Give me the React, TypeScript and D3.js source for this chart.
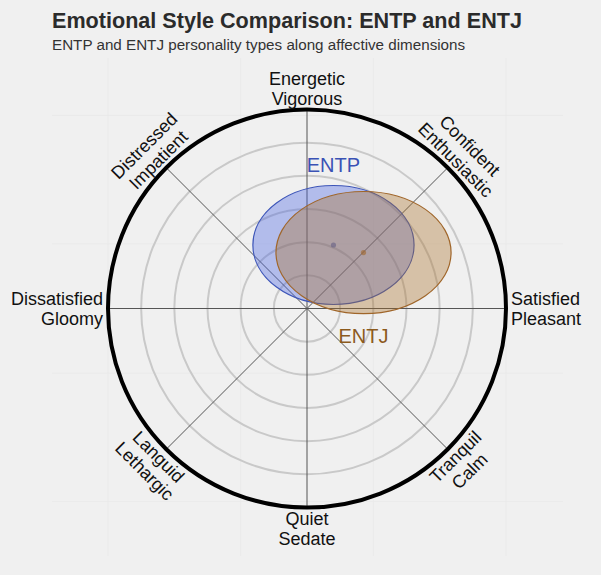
import React from "react";
import * as d3 from "d3";

const W = 601;
const H = 575;

// ---- data ----
const types = ["ENTP", "ENTJ"];
const centerX = [0.133, 0.284];
const centerY = [0.319, 0.281];
const radiusX = [0.405, 0.44];
const radiusY = [0.299, 0.307];
const fillColors = ["#4561e2", "#a96f28"];
const strokeColors = ["#3d55b8", "#a0662a"];
const labelColors = ["#3a52b5", "#8c5a1c"];

const axisAngles = [90, 45, 0, -45, -90, -135, 180, 135];
const axisLabels = [
  ["Energetic", "Vigorous"],
  ["Confident", "Enthusiastic"],
  ["Satisfied", "Pleasant"],
  ["Tranquil", "Calm"],
  ["Quiet", "Sedate"],
  ["Languid", "Lethargic"],
  ["Dissatisfied", "Gloomy"],
  ["Distressed", "Impatient"],
];
const ringLevels = [1 / 6, 2 / 6, 3 / 6, 4 / 6, 5 / 6];
const bgGridX = [-1, -1 / 3, 1 / 3, 1];
const bgGridY = [-0.97, -0.325, 0.325, 0.97];

const title = "Emotional Style Comparison: ENTP and ENTJ";
const subtitle = "ENTP and ENTJ personality types along affective dimensions";

export default function App() {
  const cx = 307;
  const cy = 308.5;
  const R = 199;
  const x = d3.scaleLinear().domain([-1, 1]).range([cx - R, cx + R]);
  const y = d3.scaleLinear().domain([-1, 1]).range([cy + R, cy - R]);
  const font = "'Liberation Sans', Arial, Helvetica, sans-serif";
  const labFs = 18;

  const panel = { x0: 52, x1: 563, y0: 58, y1: 556 };

  const renderLabel = (ang: number, lines: string[], i: number) => {
    const rad = (ang * Math.PI) / 180;
    if (ang === 0 || ang === 180) {
      const px = cx + (ang === 0 ? R + 5 : -(R + 5));
      return (
        <g key={i} transform={`translate(${px},${cy})`}>
          {lines.map((t, j) => (
            <text
              key={j}
              x={0}
              y={(j === 0 ? -10 : 10) + 6}
              textAnchor={ang === 0 ? "start" : "end"}
              fontSize={labFs}
              fill="#111"
            >
              {t}
            </text>
          ))}
        </g>
      );
    }
    const rm = R + 21;
    const px = cx + rm * Math.cos(rad);
    const py = cy - rm * Math.sin(rad);
    let rot = 0;
    if (ang === 45 || ang === -135) rot = 45;
    if (ang === 135 || ang === -45) rot = -45;
    return (
      <g key={i} transform={`translate(${px},${py}) rotate(${rot})`}>
        {lines.map((t, j) => (
          <text
            key={j}
            x={0}
            y={(j === 0 ? -10 : 10) + 6}
            textAnchor="middle"
            fontSize={labFs}
            fill="#111"
          >
            {t}
          </text>
        ))}
      </g>
    );
  };

  return (
    <svg
      width={W}
      height={H}
      style={{ position: "absolute", left: 0, top: 0, fontFamily: font }}
    >
      <rect x={0} y={0} width={W} height={H} fill="#f0f0f0" />
      {/* faint background grid */}
      {bgGridX.map((v, i) => (
        <line
          key={"gx" + i}
          x1={x(v)}
          x2={x(v)}
          y1={panel.y0}
          y2={panel.y1}
          stroke="#e9e9e9"
          strokeWidth={0.8}
        />
      ))}
      {bgGridY.map((v, i) => (
        <line
          key={"gy" + i}
          x1={panel.x0}
          x2={panel.x1}
          y1={y(v)}
          y2={y(v)}
          stroke="#e9e9e9"
          strokeWidth={0.8}
        />
      ))}
      {/* title */}
      <text x={52} y={28} fontSize={21.6} fontWeight="bold" fill="#2b2b2b">
        {title}
      </text>
      <text x={52} y={50} fontSize={15.2} fill="#333">
        {subtitle}
      </text>
      {/* rings */}
      {ringLevels.map((r, i) => (
        <circle
          key={"r" + i}
          cx={x(0)}
          cy={y(0)}
          r={x(r) - x(0)}
          fill="none"
          stroke="#c9c9c9"
          strokeWidth={2}
        />
      ))}
      {/* spokes */}
      {axisAngles.map((a, i) => {
        const rad = (a * Math.PI) / 180;
        return (
          <line
            key={"s" + i}
            x1={x(0)}
            y1={y(0)}
            x2={x(Math.cos(rad))}
            y2={y(Math.sin(rad))}
            stroke="#555"
            strokeWidth={1}
          />
        );
      })}
      {/* ellipses */}
      {types.map((t, i) => (
        <g key={"e" + t}>
          <ellipse
            cx={x(centerX[i])}
            cy={y(centerY[i])}
            rx={x(radiusX[i]) - x(0)}
            ry={x(radiusY[i]) - x(0)}
            fill={fillColors[i]}
            fillOpacity={0.36}
            stroke={strokeColors[i]}
            strokeWidth={1.2}
          />
          <circle
            cx={x(centerX[i])}
            cy={y(centerY[i])}
            r={2.6}
            fill={strokeColors[i]}
            fillOpacity={0.6}
          />
        </g>
      ))}
      {types.map((t, i) => {
        const top = y(centerY[i] + radiusY[i]);
        const bottom = y(centerY[i] - radiusY[i]);
        const ty = i === 0 ? top - 14 : bottom + 29;
        return (
          <text
            key={"l" + t}
            x={x(centerX[i])}
            y={ty}
            textAnchor="middle"
            fontSize={20}
            fill={labelColors[i]}
          >
            {t}
          </text>
        );
      })}
      {/* outer circle */}
      <circle cx={x(0)} cy={y(0)} r={R} fill="none" stroke="#000" strokeWidth={4} />
      {axisAngles.map((a, i) => renderLabel(a, axisLabels[i], i))}
    </svg>
  );
}
